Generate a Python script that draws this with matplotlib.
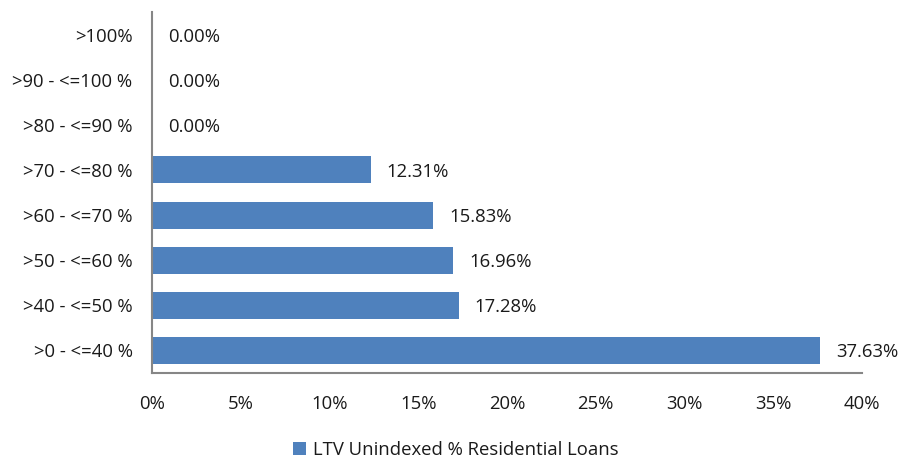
import matplotlib
matplotlib.use("Agg")
import matplotlib.pyplot as plt
from matplotlib.patches import Patch

categories = [">0 - <=40 %", ">40 - <=50 %", ">50 - <=60 %", ">60 - <=70 %",
              ">70 - <=80 %", ">80 - <=90 %", ">90 - <=100 %", ">100%"]
values = [37.63, 17.28, 16.96, 15.83, 12.31, 0.00, 0.00, 0.00]
xticks = [0, 5, 10, 15, 20, 25, 30, 35, 40]
series_name = "LTV Unindexed % Residential Loans"

plt.rcParams['font.family'] = ['Open Sans', 'DejaVu Sans']
FS = 13.3
color = "#4F81BD"
spine_c = "#868686"
txt_c = "#1a1a1a"

fig = plt.figure(figsize=(9.08, 4.61), dpi=100)
ax = fig.add_axes([152/908, 1-373/461, (862-152)/908, (373-12)/461])

y = list(range(len(categories)))
ax.barh(y, values, height=0.6, color=color, edgecolor="none")
for yi, v in zip(y, values):
    ax.annotate(f"{v:.2f}%", (v, yi), xytext=(11.5, 0), textcoords="offset points",
                va="center_baseline", ha="left", fontsize=FS, color=txt_c)

ax.set_xlim(0, 40)
ax.set_ylim(-0.5, len(categories)-0.5)
ax.set_yticks(y)
ax.set_yticklabels(categories, va="center_baseline")
ax.set_xticks(xticks)
ax.set_xticklabels([f"{t}%" for t in xticks])
ax.tick_params(axis='both', length=0, labelsize=FS, colors=txt_c)
ax.tick_params(axis='x', pad=16)
ax.tick_params(axis='y', pad=14)
for s in ['top', 'right']:
    ax.spines[s].set_visible(False)
for s in ['left', 'bottom']:
    ax.spines[s].set_color(spine_c)
    ax.spines[s].set_linewidth(1.5)

handle = Patch(facecolor=color, edgecolor="none")
fig.legend([handle], [series_name], loc="center", bbox_to_anchor=(0.502, 1-450/461),
           frameon=False, fontsize=FS, handlelength=0.7, handleheight=0.7,
           handletextpad=0.4, labelcolor=txt_c)

fig.savefig("out.png", dpi=100)
